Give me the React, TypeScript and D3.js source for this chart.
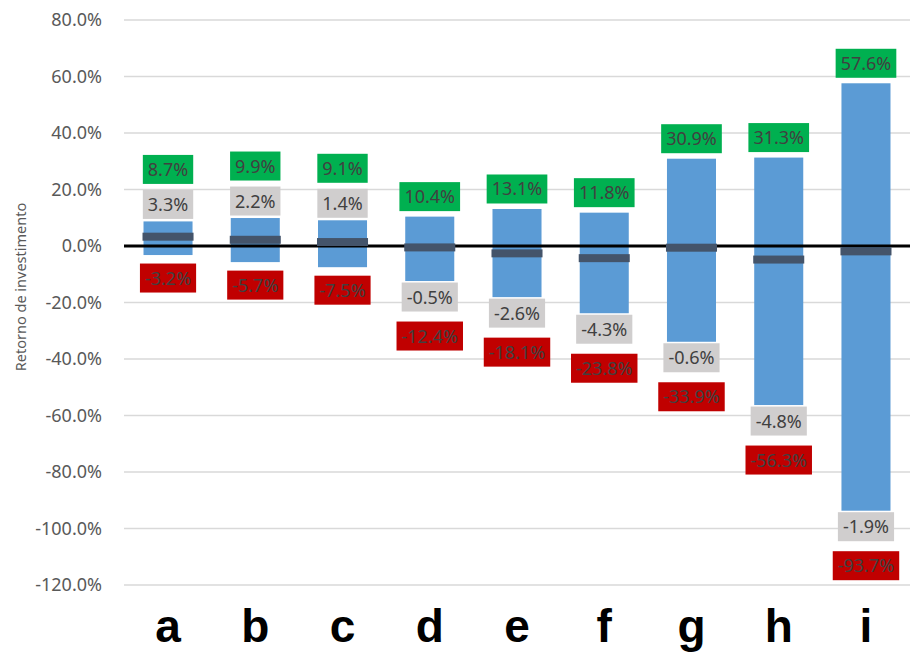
import * as d3 from 'd3';
import { useEffect, useRef } from 'react';

const categories = ['a', 'b', 'c', 'd', 'e', 'f', 'g', 'h', 'i'];
const maxValues = [8.7, 9.9, 9.1, 10.4, 13.1, 11.8, 30.9, 31.3, 57.6];
const meanValues = [3.3, 2.2, 1.4, -0.5, -2.6, -4.3, -0.6, -4.8, -1.9];
const minValues = [-3.2, -5.7, -7.5, -12.4, -18.1, -23.8, -33.9, -56.3, -93.7];
const yTicks = [80, 60, 40, 20, 0, -20, -40, -60, -80, -100, -120];

export default function App() {
  const ref = useRef<SVGSVGElement | null>(null);

  useEffect(() => {
    if (!ref.current) return;
    const svg = d3.select(ref.current);
    svg.selectAll('*').remove();

    const width = 910;
    const height = 653;
    const font = '"Noto Sans", "Open Sans", sans-serif';

    const x = d3
      .scaleBand<string>()
      .domain(categories)
      .range([124.4, 909.6])
      .paddingInner(0.438)
      .paddingOuter(0.219);
    const y = d3.scaleLinear().domain([-120, 80]).range([585, 20]);

    svg.attr('viewBox', `0 0 ${width} ${height}`);

    // Gridlines
    svg
      .append('g')
      .selectAll('line')
      .data(yTicks.filter((t) => t !== 0))
      .enter()
      .append('line')
      .attr('x1', 124)
      .attr('x2', 912)
      .attr('y1', (d) => y(d))
      .attr('y2', (d) => y(d))
      .attr('stroke', '#D9D9D9')
      .attr('stroke-width', 1.5);

    // Tick labels
    svg
      .append('g')
      .selectAll('text')
      .data(yTicks)
      .enter()
      .append('text')
      .attr('x', 102)
      .attr('y', (d) => y(d))
      .attr('dy', '0.36em')
      .attr('text-anchor', 'end')
      .style('font-family', font)
      .style('font-size', '18px')
      .attr('fill', '#595959')
      .text((d) => `${d.toFixed(1)}%`);

    // Axis title
    svg
      .append('text')
      .attr('transform', `translate(26, 287) rotate(-90)`)
      .attr('text-anchor', 'middle')
      .style('font-family', font)
      .style('font-size', '14.5px')
      .attr('fill', '#595959')
      .text('Retorno de investimento');

    const rows = categories.map((c, i) => ({
      cat: c,
      max: maxValues[i],
      mean: meanValues[i],
      min: minValues[i],
    }));

    // Range bars
    svg
      .append('g')
      .selectAll('rect')
      .data(rows)
      .enter()
      .append('rect')
      .attr('x', (d) => x(d.cat) || 0)
      .attr('y', (d) => y(d.max))
      .attr('width', x.bandwidth())
      .attr('height', (d) => y(d.min) - y(d.max))
      .attr('fill', '#5B9BD5');

    // Zero line
    svg
      .append('line')
      .attr('x1', 124)
      .attr('x2', 912)
      .attr('y1', y(0))
      .attr('y2', y(0))
      .attr('stroke', '#000')
      .attr('stroke-width', 3);

    // Mean markers
    svg
      .append('g')
      .selectAll('rect')
      .data(rows)
      .enter()
      .append('rect')
      .attr('x', (d) => (x(d.cat) || 0) - 1)
      .attr('y', (d) => y(d.mean) - 4)
      .attr('width', x.bandwidth() + 2)
      .attr('height', 8)
      .attr('fill', '#44546A');

    // Value labels
    const labels = svg.append('g');
    const addLabel = (cx: number, cy: number, value: number, fill: string) => {
      const g = labels.append('g');
      const rect = g.append('rect').attr('fill', fill);
      const t = g
        .append('text')
        .attr('x', cx)
        .attr('y', cy)
        .attr('dy', '0.36em')
        .attr('text-anchor', 'middle')
        .style('font-family', font)
        .style('font-size', '18px')
        .attr('fill', '#404040')
        .text(`${value.toFixed(1)}%`);
      const w = (t.node() as SVGTextElement).getComputedTextLength() + 10;
      rect
        .attr('x', cx - w / 2)
        .attr('y', cy - 14.5)
        .attr('width', w)
        .attr('height', 29);
    };

    rows.forEach((d) => {
      const cx = (x(d.cat) || 0) + x.bandwidth() / 2;
      const top = y(d.max);
      const bottom = y(d.min);
      if (d.mean >= 0) {
        const gy = top - 17;
        addLabel(cx, gy, d.mean, '#D0CECE');
        addLabel(cx, gy - 35, d.max, '#00B050');
        addLabel(cx, bottom + 23, d.min, '#C00000');
      } else {
        addLabel(cx, top - 20, d.max, '#00B050');
        const gy = bottom + 16;
        addLabel(cx, gy, d.mean, '#D0CECE');
        addLabel(cx, gy + 39, d.min, '#C00000');
      }
    });

    // Category labels
    svg
      .append('g')
      .selectAll('text')
      .data(categories)
      .enter()
      .append('text')
      .attr('x', (d) => (x(d) || 0) + x.bandwidth() / 2)
      .attr('y', 642)
      .attr('text-anchor', 'middle')
      .style('font-family', '"Liberation Sans", Arial, sans-serif')
      .style('font-weight', 'bold')
      .style('font-size', '46px')
      .attr('fill', '#000')
      .text((d) => d);
  }, []);

  return (
    <svg
      ref={ref}
      width={910}
      height={653}
      style={{ position: 'absolute', left: 0, top: 0, background: '#fff' }}
      role="img"
      aria-label="Retorno de investimento"
    />
  );
}
